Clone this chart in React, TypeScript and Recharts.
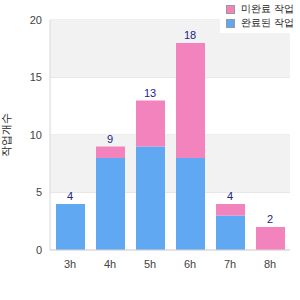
import React from 'react';
import { ComposedChart, Bar, Line, XAxis, YAxis, CartesianGrid, LabelList, ReferenceArea } from 'recharts';

const categories = ['3h', '4h', '5h', '6h', '7h', '8h'];
const doneValues = [4, 8, 9, 8, 3, 0];
const pendingValues = [0, 1, 4, 10, 1, 2];
const yTicks = [0, 5, 10, 15, 20];
const grayBands = [[5, 10], [15, 20]];
const seriesNames = { done: '완료된 작업', pending: '미완료 작업' };
const yLabel = '작업개수';

const BLUE = '#60a8f2';
const PINK = '#f383bc';

const data = categories.map((c, i) => ({
  name: c,
  done: doneValues[i],
  pending: pendingValues[i],
  total: doneValues[i] + pendingValues[i],
}));

const font = 'Liberation Sans, Arial, sans-serif';

const legendItems = [
  { color: PINK, label: seriesNames.pending },
  { color: BLUE, label: seriesNames.done },
];

export default function App() {
  return (
    <div style={{ position: 'absolute', left: 0, top: 0, width: 300, height: 300, background: '#fff' }}>
      <ComposedChart width={300} height={300} data={data} margin={{ top: 20, right: 10, left: 0, bottom: 20 }}>
        {grayBands.map(([a, b]) => (
          <ReferenceArea key={a} yAxisId="l" y1={a} y2={b} fill="#f2f2f2" fillOpacity={1} stroke="none" />
        ))}
        <CartesianGrid vertical={false} stroke="#dddddd" yAxisId="l" />
        <XAxis
          dataKey="name"
          height={30}
          tickLine={false}
          axisLine={{ stroke: '#d8d8d8' }}
          tick={{ fill: '#444', fontSize: 11, fontFamily: font }}
          tickMargin={4}
        />
        <YAxis
          yAxisId="l"
          width={50}
          domain={[0, 20]}
          ticks={yTicks}
          tickLine={false}
          axisLine={{ stroke: '#d8d8d8' }}
          tick={{ fill: '#444', fontSize: 11, fontFamily: font }}
          tickMargin={2}
          label={{ value: yLabel, angle: -90, position: 'insideLeft', offset: 6, style: { fill: '#222', fontSize: 11, fontFamily: font, textAnchor: 'middle' } }}
        />
        <YAxis yAxisId="r" orientation="right" width={0} domain={[0, 20]} tick={false} tickLine={false} axisLine={{ stroke: '#d8d8d8' }} />
        <Bar yAxisId="l" dataKey="done" stackId="a" fill={BLUE} barSize={29} isAnimationActive={false} />
        <Bar yAxisId="l" dataKey="pending" stackId="a" fill={PINK} barSize={29} isAnimationActive={false} />
        <Line yAxisId="l" dataKey="total" stroke="none" dot={false} activeDot={false} isAnimationActive={false}>
          <LabelList dataKey="total" position="top" offset={4} style={{ fill: '#22228c', fontSize: 11, fontFamily: font }} />
        </Line>
      </ComposedChart>
      <div style={{ position: 'absolute', left: 220, top: 0, width: 72, height: 33, background: '#fff', fontFamily: font, fontSize: 10, color: '#222' }}>
        {legendItems.map((it, i) => (
          <div key={it.label} style={{ position: 'absolute', left: 6, top: 4 + i * 14, display: 'flex', alignItems: 'center', height: 10, whiteSpace: 'nowrap' }}>
            <span style={{ display: 'inline-block', width: 7, height: 7, background: it.color, border: '1px solid #999', marginRight: 6 }} />
            <span>{it.label}</span>
          </div>
        ))}
      </div>
    </div>
  );
}
